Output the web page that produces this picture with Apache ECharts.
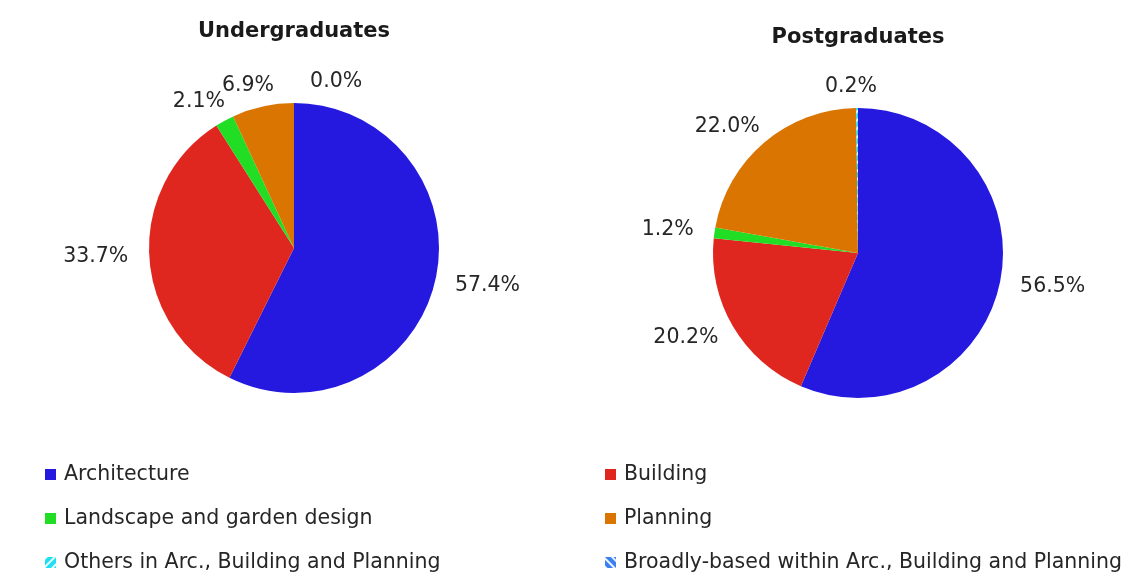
<!DOCTYPE html>
<html>
<head>
<meta charset="utf-8">
<script src="https://cdn.jsdelivr.net/npm/echarts@6/dist/echarts.min.js"></script>
<style>
  html, body { margin: 0; padding: 0; background: #ffffff; }
  #chart { width: 1142px; height: 578px; }
</style>
</head>
<body>
<div id="chart"></div>
<script>
// Subject areas, in the order the slices run clockwise from 12 o'clock
const categories = [
  'Architecture',
  'Building',
  'Landscape and garden design',
  'Planning',
  'Others in Arc., Building and Planning',
  'Broadly-based within Arc., Building and Planning'
];
// Share of students (%) per subject area
const undergraduates = [57.4, 33.7, 2.1, 6.9, 0.0, 0.0];
const postgraduates  = [56.5, 20.2, 1.2, 22.0, 0.2, 0.0];
// Which slices carry a percentage label
const labelled = [true, true, true, true, true, false];
const titles = ['Undergraduates', 'Postgraduates'];

const colors = ['#2519e0', '#e0271f', '#21de25', '#d97500', '#1fdff2', '#3b80f0'];
const FONT = 'DejaVu Sans';
const TEXT = '#262626';

// Striped fills for the two residual categories
const stripe = (rot) => ({
  symbol: 'rect',
  color: 'rgba(255,255,255,0.9)',
  dashArrayX: [1, 0],
  dashArrayY: [1.2, 3.8],
  rotation: rot
});
const decals = [null, null, null, null, stripe(-Math.PI / 4), stripe(Math.PI / 4)];

const R = 145;
const centers = [[294, 248], [858, 253]];
const LABEL_PAD = 36;   // spacing used when a label has to make room for a neighbour

// Put each label just outside the rim, pushed out along its slice direction;
// a label whose glyphs would collide with an earlier one slides to its right.
function placeLabel(center) {
  let placed = [];
  return function (p) {
    if (p.dataIndex === 0) placed = [];
    const r = p.labelRect;
    const px = p.align === 'left' ? r.x : (p.align === 'right' ? r.x + r.width : r.x + r.width / 2);
    const py = r.y + r.height / 2;
    const dx = px - center[0];
    const dy = py - center[1];
    const d = Math.hypot(dx, dy) || 1;
    let cx = px + dx / d * r.width / 2;
    const cy = py + dy / d * r.height / 2 * 0.5;
    const w = r.width, h = r.height * 0.6;
    placed.forEach(function (q) {
      const overlapX = Math.abs(cx - q.cx) < (w + q.w) / 2;
      const overlapY = Math.abs(cy - q.cy) < (h + q.h) / 2;
      if (overlapX && overlapY) cx = q.cx + q.w / 2 + LABEL_PAD + w / 2;
    });
    placed.push({ cx: cx, cy: cy, w: w, h: h });
    return { x: cx, y: cy, align: 'center', verticalAlign: 'middle' };
  };
}

function pieSeries(name, values, center) {
  return {
    name: name,
    type: 'pie',
    radius: R,
    center: center,
    startAngle: 90,
    clockwise: true,
    avoidLabelOverlap: false,
    animation: false,
    emphasis: { disabled: true },
    data: categories.map((c, i) => ({
      name: c,
      value: values[i],
      itemStyle: decals[i] ? { color: colors[i], decal: decals[i] } : { color: colors[i] },
      label: { show: labelled[i] }
    })),
    label: {
      show: true,
      position: 'outside',
      formatter: (p) => p.value.toFixed(1) + '%',
      fontFamily: FONT,
      fontSize: 20.5,
      color: TEXT
    },
    labelLine: { show: false, length: 16, length2: 0 },
    labelLayout: placeLabel(center)
  };
}

const legendBase = {
  orient: 'vertical',
  icon: 'rect',
  itemWidth: 11,
  itemHeight: 11,
  itemGap: 23,
  padding: 0,
  selectedMode: false,
  textStyle: { fontFamily: FONT, fontSize: 20.5, color: TEXT, padding: [0, 0, 0, 3] }
};

const chart = echarts.init(document.getElementById('chart'), null, { renderer: 'canvas' });
chart.setOption({
  backgroundColor: '#ffffff',
  title: [
    { text: titles[0], left: centers[0][0], top: 21, textAlign: 'center', padding: 0,
      textStyle: { fontFamily: FONT, fontSize: 21, fontWeight: 'bold', color: '#1a1a1a' } },
    { text: titles[1], left: centers[1][0], top: 27, textAlign: 'center', padding: 0,
      textStyle: { fontFamily: FONT, fontSize: 21, fontWeight: 'bold', color: '#1a1a1a' } }
  ],
  legend: [
    Object.assign({}, legendBase, { left: 45, top: 464, data: categories.filter((_, i) => i % 2 === 0) }),
    Object.assign({}, legendBase, { left: 605, top: 464, data: categories.filter((_, i) => i % 2 === 1) })
  ],
  series: [
    pieSeries(titles[0], undergraduates, centers[0]),
    pieSeries(titles[1], postgraduates, centers[1])
  ]
});
</script>
</body>
</html>
